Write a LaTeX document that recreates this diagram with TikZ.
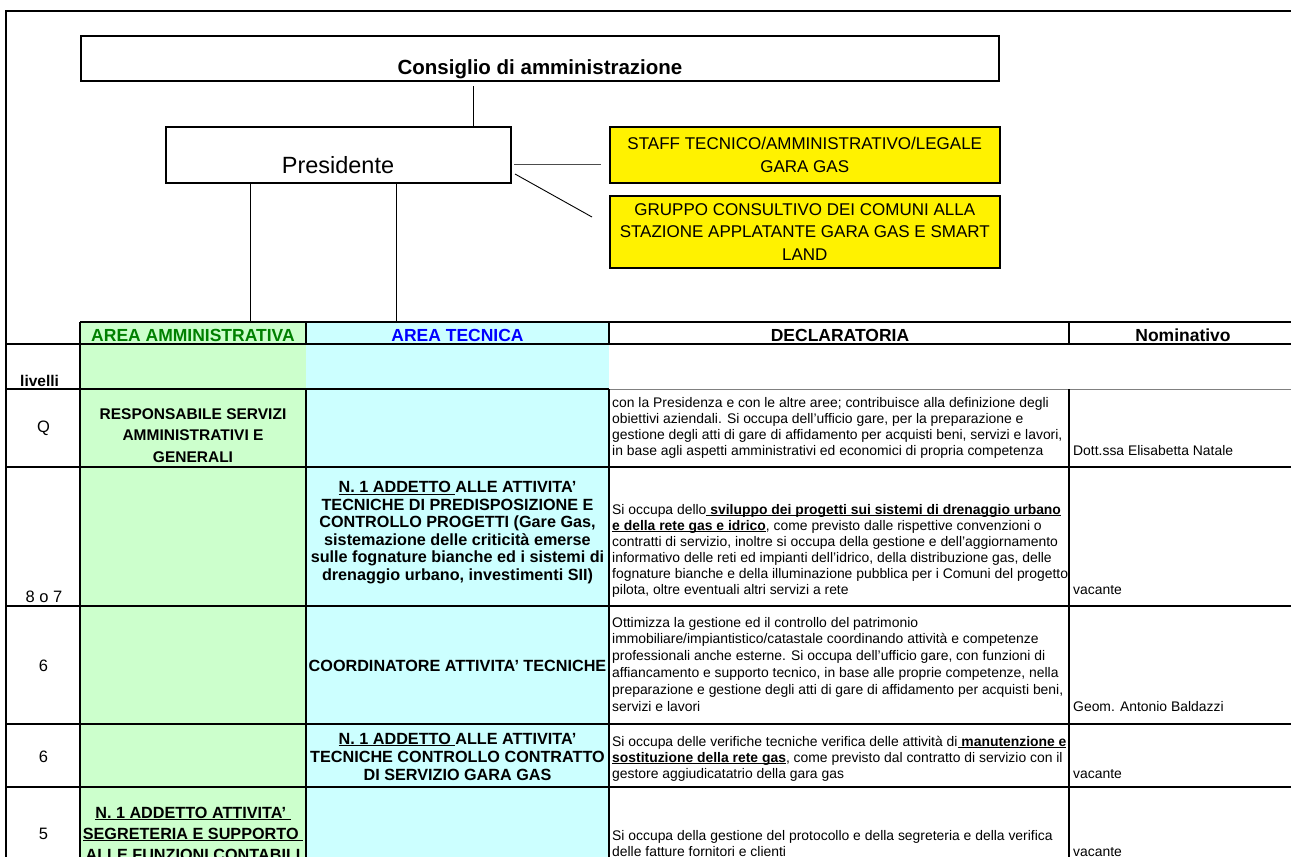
\documentclass[tikz,border=0pt]{standalone}
\usepackage{fontspec}
\setmainfont{Liberation Sans}
\definecolor{agreen}{HTML}{CCFFCC}
\definecolor{acyan}{HTML}{CCFFFF}
\definecolor{tgreen}{HTML}{008000}
\definecolor{tblue}{HTML}{0000FF}
\newcommand\fdec{\fontsize{13.9}{16}\selectfont}
\newcommand\fbod{\fontsize{16.2}{18}\selectfont\bfseries}
\newcommand\fbodq{\fontsize{15.5}{18}\selectfont\bfseries}
\newcommand\fhed{\fontsize{17.5}{20}\selectfont\bfseries}
\newcommand\flab{\fontsize{16.5}{20}\selectfont}
\newcommand\fyel{\fontsize{17}{22.5}\selectfont}
\newcommand\ul[1]{\setbox0\hbox{#1}\rlap{\rule[-2.4pt]{\wd0}{1.1pt}}\box0}
\begin{document}
\begin{tikzpicture}[x=1pt,y=-1pt,
  every node/.style={inner sep=0pt},
  box/.style={draw, line width=1.5pt, anchor=north west},
  ybox/.style={box, fill=yellow, align=center, font=\fyel},
  conn/.style={line width=0.9pt},
  grid/.style={line width=1.5pt},
  dec/.style={anchor=base west, font=\fdec},
  bod/.style={anchor=base, font=\fbod},
  bodq/.style={anchor=base, font=\fbodq},
  hed/.style={anchor=base, font=\fhed},
  lab/.style={anchor=base, font=\flab}]
\path[use as bounding box] (0,0) rectangle (1291,857);
\clip (0,0) rectangle (1291,857);
% ---------- organigram ----------
\node[box, minimum width=918pt, minimum height=45pt] (cda) at (80,35) {};
\node[anchor=base, font=\fontsize{20.5}{22}\selectfont\bfseries] (cdat) at (540,74) {Consiglio di amministrazione};
\node[box, minimum width=345pt, minimum height=56pt] (pres) at (165,126) {};
\node[anchor=base, font=\fontsize{23.5}{26}\selectfont] (prest) at (338,173.5) {Presidente};
\node[ybox, minimum width=390pt, minimum height=56pt] (staff) at (609,126) {STAFF TECNICO/AMMINISTRATIVO/LEGALE\\GARA GAS};
\node[ybox, minimum width=390pt, minimum height=72pt] (grp) at (609,195) {GRUPPO CONSULTIVO DEI COMUNI ALLA\\STAZIONE APPLATANTE GARA GAS E SMART\\LAND};
\coordinate (k1) at (473,86);
\draw[conn] (k1) -- (k1 |- pres.north);
\coordinate (k2) at (514,164);
\coordinate (k2e) at (601,164);
\draw[conn, gray!60!black] (k2) -- (k2e);
\coordinate (k3) at (515,174);
\coordinate (k4) at (592,217);
\draw[conn] (k3) -- (k4);
\coordinate (k5) at (250,322);
\coordinate (k6) at (396,322);
\draw[conn] (pres.south -| k5) -- (k5);
\draw[conn] (pres.south -| k6) -- (k6);
% ---------- table fills ----------
\fill[agreen] (80,322) rectangle (306,860);
\fill[acyan] (306,322) rectangle (609,860);
% ---------- grid ----------
\draw[grid] (6,860) -- (6,11) -- (1291,11);
\draw[grid] (80,322) -- (1291,322);
\draw[grid] (6,344) -- (1291,344);
\draw[grid] (6,389) -- (609,389);
\draw[line width=0.8pt, gray] (609,389) -- (1291,389);
\foreach \yy in {467,606,724,787} \draw[grid] (6,\yy) -- (1291,\yy);
\draw[grid] (80,322) -- (80,860);
\foreach \xx in {306,609,1069} {\draw[grid] (\xx,322) -- (\xx,344); \draw[grid] (\xx,389) -- (\xx,860);}
% ---------- header ----------
\node[hed, text=tgreen] (h1) at (193,341) {AREA AMMINISTRATIVA};
\node[hed, text=tblue] (h2) at (457.5,341) {AREA TECNICA};
\node[hed] (h3) at (840,341) {DECLARATORIA};
\node[hed] (h4) at (1183,341) {Nominativo};
\node[anchor=base west, font=\fbodq] (liv) at (20,386) {livelli};
% ---------- levels ----------
\node[lab] (lq) at (43.5,432) {Q};
\node[lab] (l87) at (44,602) {8 o 7};
\node[lab] (l6a) at (43.5,671) {6};
\node[lab] (l6b) at (43.5,762) {6};
\node[lab] (l5) at (43.5,839) {5};
% ---------- roles ----------
\node[bodq] (r1) at (193,419.5) {RESPONSABILE SERVIZI};
\node[bodq] (r2) at (193,440.5) {AMMINISTRATIVI E};
\node[bodq] (r3) at (193,462) {GENERALI};
\node[bod] (t1) at (457.5,492.5) {\ul{N. 1 ADDETTO }ALLE ATTIVITA'};
\node[bod] (t2) at (457.5,510) {TECNICHE DI PREDISPOSIZIONE E};
\node[bod] (t3) at (457.5,527.5) {CONTROLLO PROGETTI (Gare Gas,};
\node[bod] (t4) at (457.5,545) {sistemazione delle criticità emerse};
\node[bod] (t5) at (457.5,562.5) {sulle fognature bianche ed i sistemi di};
\node[bod] (t6) at (457.5,580) {drenaggio urbano, investimenti SII)};
\node[bod] (c1) at (457.5,671) {COORDINATORE ATTIVITA' TECNICHE};
\node[bod] (u1) at (457.5,744) {\ul{N. 1 ADDETTO }ALLE ATTIVITA'};
\node[bod] (u2) at (457.5,762) {TECNICHE CONTROLLO CONTRATTO};
\node[bod] (u3) at (457.5,780) {DI SERVIZIO GARA GAS};
\node[bod] (s1) at (193,818) {\ul{N. 1 ADDETTO ATTIVITA' }};
\node[bod] (s2) at (193,839) {\ul{SEGRETERIA E SUPPORTO }};
\node[bod] (s3) at (193,860) {\ul{ALLE FUNZIONI CONTABILI}};
% ---------- declaratoria ----------
\node[dec] (dq1) at (612,407) {con la Presidenza e con le altre aree; contribuisce alla definizione degli};
\node[dec] (dq2) at (612,423) {obiettivi aziendali. Si occupa dell'ufficio gare, per la preparazione e};
\node[dec] (dq3) at (612,439) {gestione degli atti di gare di affidamento per acquisti beni, servizi e lavori,};
\node[dec] (dq4) at (612,455) {in base agli aspetti amministrativi ed economici di propria competenza};
\node[dec] (nq) at (1073,455) {Dott.ssa Elisabetta Natale};
\node[dec] (da1) at (612,514) {Si occupa dello\ul{\textbf{\ sviluppo dei progetti sui sistemi di drenaggio urbano}}};
\node[dec] (da2) at (612,530) {\ul{\textbf{e della rete gas e idrico}}, come previsto dalle rispettive convenzioni o};
\node[dec] (da3) at (612,546) {contratti di servizio, inoltre si occupa della gestione e dell'aggiornamento};
\node[dec] (da4) at (612,562) {informativo delle reti ed impianti dell'idrico, della distribuzione gas, delle};
\node[dec] (da5) at (612,578) {fognature bianche e della illuminazione pubblica per i Comuni del progetto};
\node[dec] (da6) at (612,594) {pilota, oltre eventuali altri servizi a rete};
\node[dec] (na) at (1073,594) {vacante};
\node[dec] (db1) at (612,627) {Ottimizza la gestione ed il controllo del patrimonio};
\node[dec] (db2) at (612,643.8) {immobiliare/impiantistico/catastale coordinando attività e competenze};
\node[dec] (db3) at (612,660.6) {professionali anche esterne. Si occupa dell'ufficio gare, con funzioni di};
\node[dec] (db4) at (612,677.4) {affiancamento e supporto tecnico, in base alle proprie competenze, nella};
\node[dec] (db5) at (612,694.2) {preparazione e gestione degli atti di gare di affidamento per acquisti beni,};
\node[dec] (db6) at (612,711) {servizi e lavori};
\node[dec] (nb) at (1073,711) {Geom. Antonio Baldazzi};
\node[dec] (dc1) at (612,746) {Si occupa delle verifiche tecniche verifica delle attività di\ul{\textbf{\ manutenzione e}}};
\node[dec] (dc2) at (612,762) {\ul{\textbf{sostituzione della rete gas}}, come previsto dal contratto di servizio con il};
\node[dec] (dc3) at (612,778) {gestore aggiudicatatrio della gara gas};
\node[dec] (nc) at (1073,778) {vacante};
\node[dec] (dd1) at (612,840) {Si occupa della gestione del protocollo e della segreteria e della verifica};
\node[dec] (dd2) at (612,856) {delle fatture fornitori e clienti};
\node[dec] (nd) at (1073,856) {vacante};
\end{tikzpicture}
\end{document}
